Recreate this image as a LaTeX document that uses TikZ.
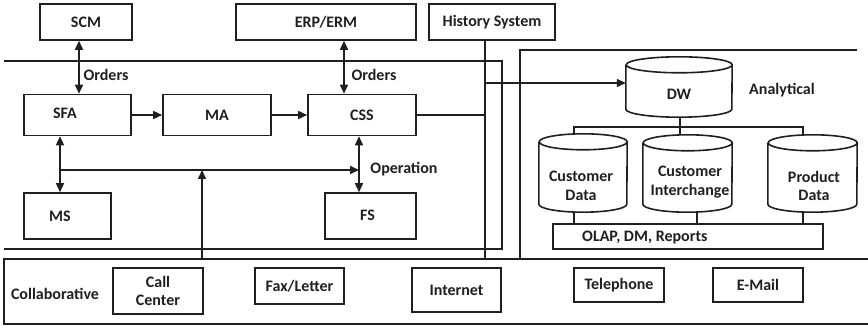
\documentclass[tikz,border=0pt]{standalone}
\usepackage{fontspec}
\setmainfont{Carlito}
\usetikzlibrary{arrows.meta}

% cylinder outline around a (borderless) rectangle node; #2 = horizontal radius
\newcommand\drawcyl[2]{%
  \draw[ln] ([yshift=-8pt]#1.north west) -- ([yshift=8pt]#1.south west)
    arc[start angle=180,end angle=360,x radius=#2,y radius=8pt]
    -- ([yshift=-8pt]#1.north east)
    arc[start angle=0,end angle=360,x radius=#2,y radius=8pt];}

\begin{document}
\begin{tikzpicture}[x=1pt,y=1pt,
  every node/.style={font=\bfseries\fontsize{16}{18.5}\selectfont, text=black!88},
  ln/.style={line width=1.6pt, draw=black!88},
  box/.style={ln, draw, inner sep=0pt, align=center},
  txt/.style={inner sep=0pt, align=center},
  body/.style={draw=none, inner sep=0pt},
  arr/.style={ln, -{Triangle[length=9pt,width=8pt]}},
  darr/.style={ln, {Triangle[length=9pt,width=8pt]}-{Triangle[length=9pt,width=8pt]}}]

\useasboundingbox (0,0) rectangle (868,327);

% ---------- outer frames ----------
\draw[ln] (4,266) -- (502,266) -- (502,78) -- (4,78);
\draw[ln] (857,277) -- (520,277) -- (520,68);
\draw[ln] (870,68) -- (4,68) -- (4,3) -- (870,3);
\coordinate (collabtop) at (0,68);

% ---------- top systems ----------
\node[box, minimum width=92, minimum height=36] (SCM) at (86,305) {SCM};
\node[box, minimum width=180, minimum height=36] (ERP) at (326,305) {ERP/ERM};
\node[box, minimum width=126, minimum height=36] (HIST) at (492,305) {History System};

% ---------- operational part ----------
\node[box, minimum width=107, minimum height=41] (SFA) at (77.5,212) {};
\node[txt] (SFAt) at (65,214) {SFA};
\node[box, minimum width=108, minimum height=41] (MA) at (217,212) {MA};
\node[box, minimum width=108, minimum height=41] (CSS) at (362,212) {CSS};
\node[box, minimum width=87, minimum height=46] (MS) at (67.5,111) {};
\node[txt] (MSt) at (60,111) {MS};
\node[box, minimum width=91, minimum height=46] (FS) at (370.5,111) {};
\node[txt] (FSt) at (367.5,112) {FS};

\coordinate (o1) at (79,0);
\coordinate (o2) at (344,0);
\draw[darr] (SCM.south -| o1) -- (SFA.north -| o1);
\draw[darr] (ERP.south -| o2) -- (CSS.north -| o2);
\node[txt] (ord1) at (106,252) {Orders};
\node[txt] (ord2) at (374,252) {Orders};

\draw[arr] (SFA.east) -- (MA.west);
\draw[arr] (MA.east) -- (CSS.west);

\coordinate (busL) at (60,157);
\coordinate (busR) at (359,157);
\draw[darr] (SFA.south -| busL) -- (MS.north -| busL);
\draw[darr] (CSS.south -| busR) -- (FS.north -| busR);
\draw[arr] (busL) -- (busR);
\node[txt] (oper) at (404,158) {Operation};

\coordinate (ccup) at (202,68);
\draw[arr] (ccup) -- (ccup |- busL);

% ---------- history line and link to the warehouse ----------
\coordinate (hl) at (485,0);
\draw[ln] (HIST.south -| hl) -- (hl |- collabtop);
\draw[ln] (CSS.east) -- (CSS.east -| hl);

% ---------- analytical part ----------
\node[body, minimum width=106, minimum height=60] (DW) at (679,240) {};
\drawcyl{DW}{53pt}
\node[txt] (DWt) at (679,233) {DW};
\node[txt] (anl) at (782,237) {Analytical};

\coordinate (dwin) at (485,244);
\draw[arr] (dwin) -- (dwin -| DW.west);

\node[body, minimum width=88, minimum height=78] (CD) at (583,154) {};
\drawcyl{CD}{44pt}
\node[txt] (CDt) at (581,141) {Customer\\Data};
\node[body, minimum width=89, minimum height=77] (CI) at (687.5,153.5) {};
\drawcyl{CI}{44.5pt}
\node[txt] (CIt) at (690,145) {Customer\\Interchange};
\node[body, minimum width=89, minimum height=77] (PD) at (812.5,153.5) {};
\drawcyl{PD}{44.5pt}
\node[txt] (PDt) at (814,141) {Product\\Data};

\node[box, minimum width=270, minimum height=25] (OLAP) at (688,90.5) {};
\node[txt, anchor=west] (OLAPt) at (582,89) {OLAP, DM, Reports};

\coordinate (tL) at (574,200);
\coordinate (tR) at (803,200);
\coordinate (tM) at (680,200);
\coordinate (tB) at (697,0);
\draw[ln] (CD.north -| tL) -- (tL) -- (tR) -- (PD.north -| tR);
\draw[ln] (DW.south -| tM) -- (CI.north -| tM);
\draw[ln] (CD.south -| tL) -- (OLAP.north -| tL);
\draw[ln] (CI.south -| tB) -- (OLAP.north -| tB);
\draw[ln] (PD.south -| tR) -- (OLAP.north -| tR);

% ---------- collaborative channels ----------
\node[txt] (collab) at (55,33) {Collaborative};
\node[box, minimum width=90, minimum height=46] (CC) at (158,36) {Call\\Center};
\node[box, minimum width=89, minimum height=36] (FAX) at (299.5,41) {Fax/Letter};
\node[box, minimum width=89, minimum height=44] (NET) at (456.5,37) {Internet};
\node[box, minimum width=90, minimum height=34] (TEL) at (619,42) {Telephone};
\node[box, minimum width=90, minimum height=34] (MAIL) at (758,42) {E-Mail};

\end{tikzpicture}
\end{document}
